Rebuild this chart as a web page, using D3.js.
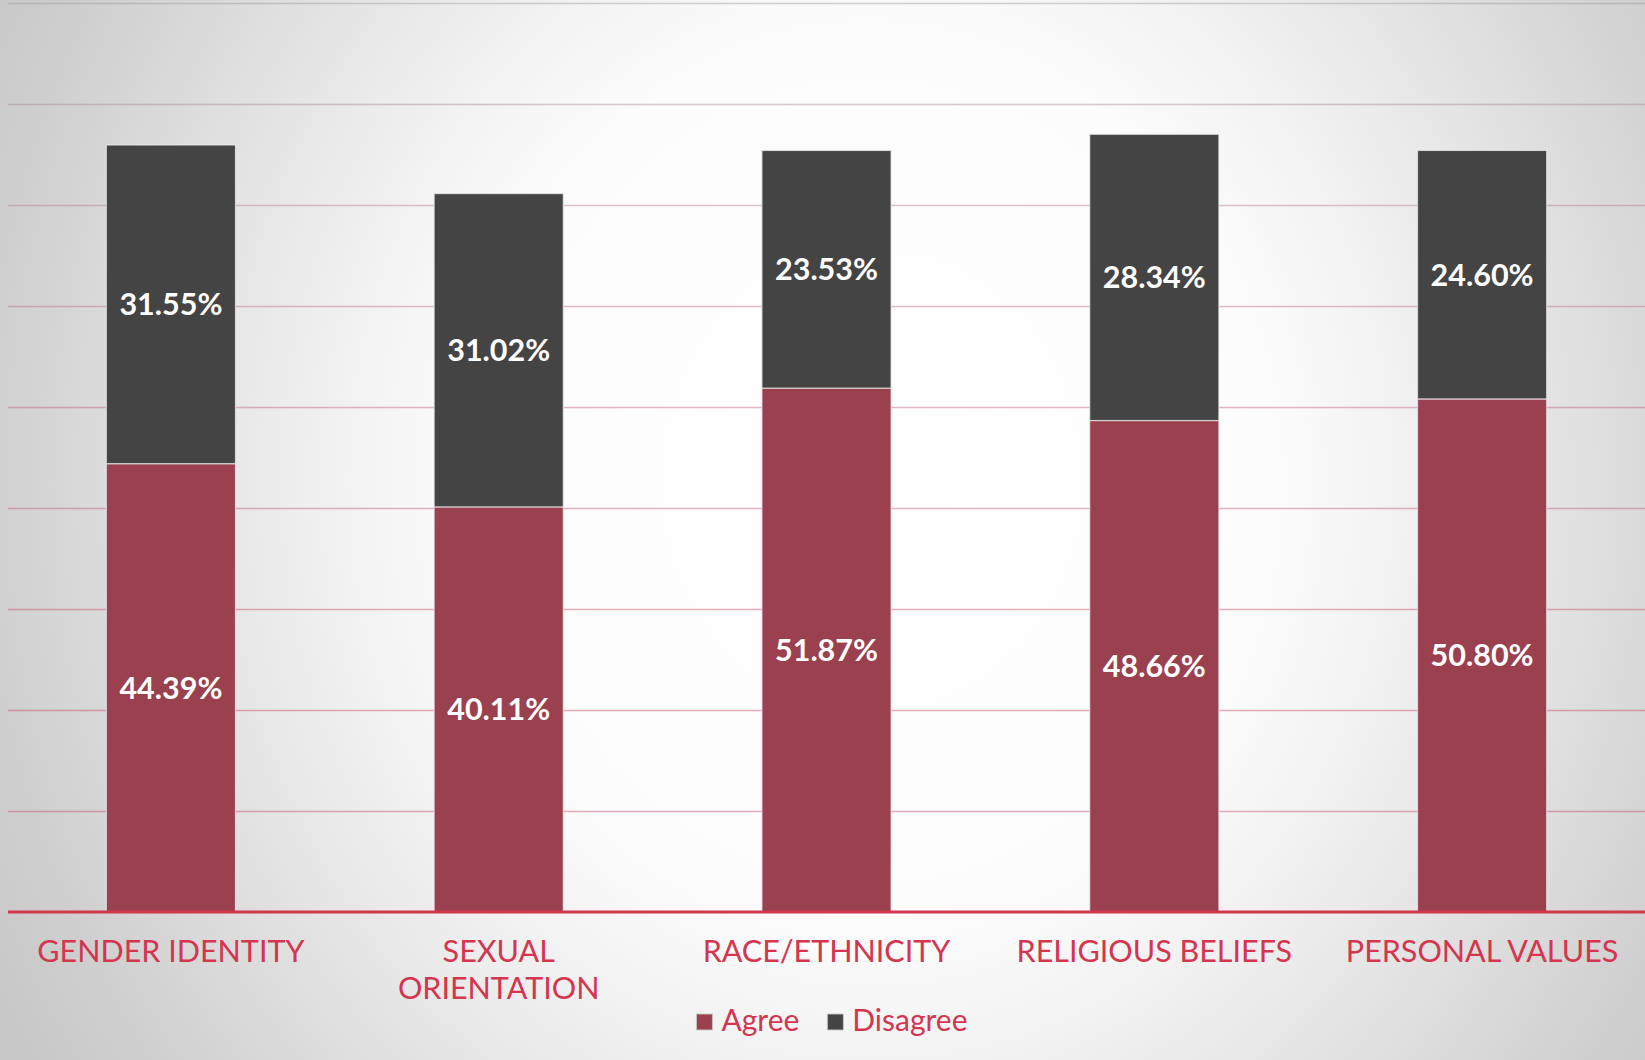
<!DOCTYPE html>
<html>
<head>
<meta charset="utf-8">
<script src="https://cdn.jsdelivr.net/npm/d3@7"></script>
<style>
  html, body { margin: 0; padding: 0; background: #e6e6e6; }
  svg { display: block; }
</style>
</head>
<body>
<svg id="chart" width="1645" height="1060"></svg>
<script>
// Survey responses by topic (percent of respondents)
const categories = ["GENDER IDENTITY", "SEXUAL ORIENTATION", "RACE/ETHNICITY", "RELIGIOUS BELIEFS", "PERSONAL VALUES"];
const categoryLines = [["GENDER IDENTITY"], ["SEXUAL", "ORIENTATION"], ["RACE/ETHNICITY"], ["RELIGIOUS BELIEFS"], ["PERSONAL VALUES"]];
const agree = [44.39, 40.11, 51.87, 48.66, 50.80];
const disagree = [31.55, 31.02, 23.53, 28.34, 24.60];
const seriesNames = ["Agree", "Disagree"];
const yTicks = [0, 10, 20, 30, 40, 50, 60, 70, 80, 90];

const W = 1645, H = 1060;
const colors = { Agree: "#9a404f", Disagree: "#444444" };
const red = "#d4354f";
const labelFont = "Lato, 'Open Sans', sans-serif";

const svg = d3.select("#chart");

// Soft radial backdrop
const defs = svg.append("defs");
const grad = defs.append("radialGradient")
  .attr("id", "bg")
  .attr("gradientUnits", "userSpaceOnUse")
  .attr("cx", 0).attr("cy", 0).attr("r", 1.15)
  .attr("gradientTransform", "translate(870,480) scale(900,1000)");
[[0, 255], [0.391, 252], [0.565, 237], [0.722, 221], [0.87, 206], [1, 197]].forEach(([o, g]) => {
  grad.append("stop").attr("offset", o).attr("stop-color", d3.rgb(g, g, g));
});
svg.append("rect").attr("width", W).attr("height", H).attr("fill", "url(#bg)");

// Scales
const y = d3.scaleLinear().domain([0, 90]).range([912, 3]);
const x = d3.scaleBand().domain(categories).range([7, 1646]).paddingInner(0.606).paddingOuter(0.303);

// Gridlines (skip zero, which gets the red baseline)
const gridColor = d3.interpolateRgb("rgba(165,150,158,0.45)", "rgba(200,70,100,0.45)");
svg.append("g").selectAll("line")
  .data(yTicks.filter(t => t > 0))
  .join("line")
  .attr("x1", 8).attr("x2", W)
  .attr("y1", d => Math.round(y(d)) + 0.5)
  .attr("y2", d => Math.round(y(d)) + 0.5)
  .attr("stroke", d => gridColor(Math.min(1, (1 - d / 90) * 1.4)))
  .attr("stroke-width", 1.6);

// Stacked bars
const rows = categories.map((c, i) => ({ category: c, Agree: agree[i], Disagree: disagree[i] }));
const stacked = d3.stack().keys(seriesNames)(rows);

const layers = svg.append("g").selectAll("g")
  .data(stacked)
  .join("g")
  .attr("fill", d => colors[d.key]);

layers.selectAll("rect")
  .data(d => d)
  .join("rect")
  .attr("x", d => x(d.data.category))
  .attr("width", x.bandwidth())
  .attr("y", d => y(d[1]))
  .attr("height", d => y(d[0]) - y(d[1]))
  .attr("stroke", "rgba(235,235,235,0.75)")
  .attr("stroke-width", 1.2);

// Value labels centred in each segment
stacked.forEach(layer => {
  svg.append("g").selectAll("text")
    .data(layer)
    .join("text")
    .attr("x", d => x(d.data.category) + x.bandwidth() / 2)
    .attr("y", d => (y(d[0]) + y(d[1])) / 2)
    .attr("dy", "0.36em")
    .attr("text-anchor", "middle")
    .attr("fill", "#ffffff")
    .attr("font-family", labelFont)
    .attr("font-weight", 700)
    .attr("font-size", 30.5)
    .text(d => (d[1] - d[0]).toFixed(2) + "%");
});

// Baseline
svg.append("line")
  .attr("x1", 8).attr("x2", W)
  .attr("y1", y(0)).attr("y2", y(0))
  .attr("stroke", red).attr("stroke-width", 3);

// Category labels
const catG = svg.append("g").selectAll("text")
  .data(categories)
  .join("text")
  .attr("x", d => x(d) + x.bandwidth() / 2)
  .attr("y", 962)
  .attr("text-anchor", "middle")
  .attr("fill", red)
  .attr("font-family", labelFont)
  .attr("font-size", 30.5);
catG.each(function (d, i) {
  const t = d3.select(this);
  categoryLines[i].forEach((line, j) => {
    t.append("tspan")
      .attr("x", x(d) + x.bandwidth() / 2)
      .attr("dy", j === 0 ? 0 : 37)
      .text(line);
  });
});

// Legend
const legend = svg.append("g");
let lx = 0;
seriesNames.forEach((name, i) => {
  const item = legend.append("g").attr("transform", `translate(${lx},0)`);
  item.append("rect")
    .attr("x", 0).attr("y", -17).attr("width", 16).attr("height", 16)
    .attr("fill", colors[name])
    .attr("stroke", "rgba(200,200,200,0.9)").attr("stroke-width", 1);
  const t = item.append("text")
    .attr("x", 25).attr("y", 0)
    .attr("fill", red)
    .attr("font-family", labelFont)
    .attr("font-size", 30)
    .text(name);
  lx += 25 + t.node().getComputedTextLength() + 28;
});
const legendWidth = lx - 28;
legend.attr("transform", `translate(${832 - legendWidth / 2},1031)`);
</script>
</body>
</html>
